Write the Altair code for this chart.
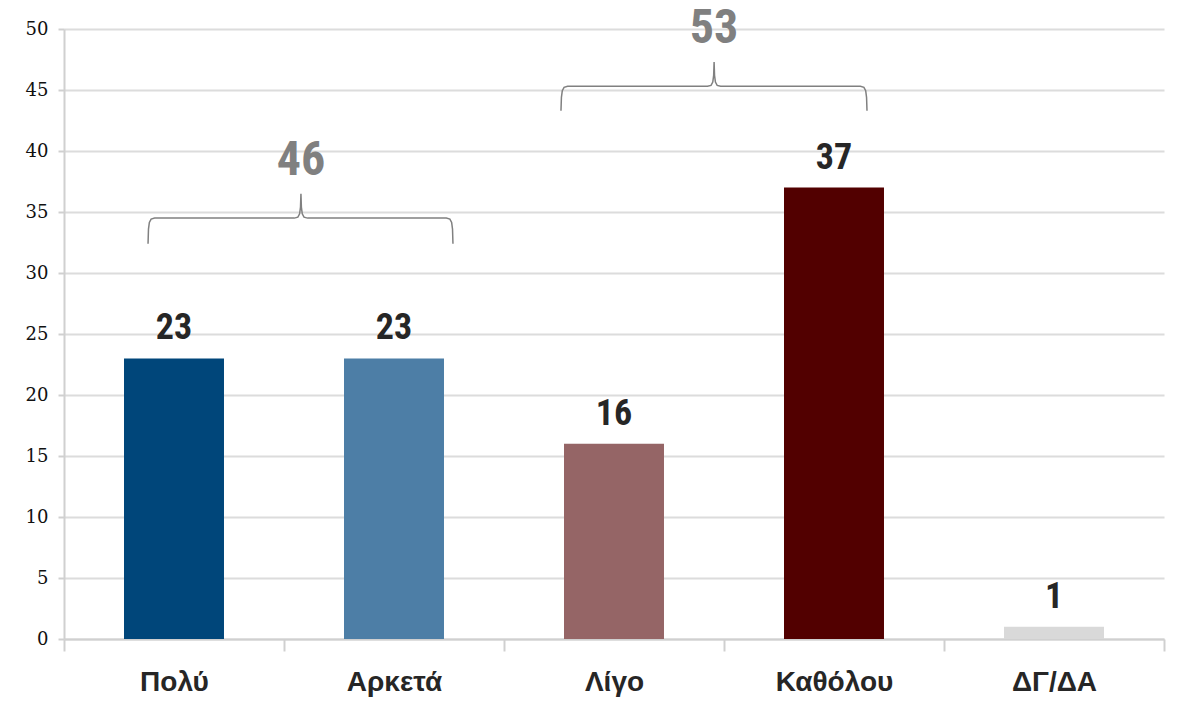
import altair as alt
import pandas as pd

# ---- data ----
categories = ["Πολύ", "Αρκετά", "Λίγο", "Καθόλου", "ΔΓ/ΔΑ"]
values = [23, 23, 16, 37, 1]
colors = ["#00467a", "#4d7ea6", "#956566", "#520000", "#d9d9d9"]

# groups summarised by a curly brace
group_members = [["Πολύ", "Αρκετά"], ["Λίγο", "Καθόλου"]]
group_totals = [sum(values[categories.index(c)] for c in g) for g in group_members]

# ---- brace annotation geometry (x in band units, y in data units) ----
brace_x0 = [0.382, 2.259]
brace_x1 = [1.768, 3.650]
brace_xm = [1.077, 2.955]
brace_arm = [34.5, 45.3]
brace_foot = [32.4, 43.3]
brace_peak = [36.5, 47.3]
label_y = [39.2, 50.0]

N = len(categories)
FONT = "Liberation Sans Narrow, Roboto Condensed, Liberation Sans, sans-serif"
AXFONT = "Liberation Sans, Arial, sans-serif"

df = pd.DataFrame({"cat": categories, "val": values, "col": colors})

rows = []
for gi in range(len(group_members)):
    x0, x1, xm = brace_x0[gi], brace_x1[gi], brace_xm[gi]
    a, f, p = brace_arm[gi], brace_foot[gi], brace_peak[gi]
    pts = [
        (x0, f), (x0 + 0.002, a - 0.9), (x0 + 0.006, a - 0.35), (x0 + 0.014, a - 0.08), (x0 + 0.03, a),
        (xm - 0.03, a), (xm - 0.014, a + 0.08), (xm - 0.006, a + 0.35), (xm - 0.002, a + 0.9), (xm, p),
        (xm + 0.002, a + 0.9), (xm + 0.006, a + 0.35), (xm + 0.014, a + 0.08), (xm + 0.03, a),
        (x1 - 0.03, a), (x1 - 0.014, a - 0.08), (x1 - 0.006, a - 0.35), (x1 - 0.002, a - 0.9), (x1, f),
    ]
    for i, (x, y) in enumerate(pts):
        rows.append({"g": gi, "o": i, "bx": x, "by": y})
brace_df = pd.DataFrame(rows)
lab_df = pd.DataFrame({"bx": brace_xm, "by": label_y, "t": [str(t) for t in group_totals]})

W, H = 1100, 610

yscale = alt.Scale(domain=[0, 50])
xband = alt.Scale(domain=categories, paddingInner=0, paddingOuter=0)

bars = alt.Chart(df).mark_bar(width=alt.RelativeBandSize(0.4545)).encode(
    x=alt.X("cat:N", sort=categories, scale=xband, title=None,
            axis=alt.Axis(labelAngle=0, labelFont=AXFONT, labelFontSize=28, labelFontWeight="bold",
                          labelColor="#262626", labelPadding=17, ticks=True, tickBand="extent",
                          tickSize=12, tickColor="#d0d0d0", tickWidth=2,
                          domainColor="#d0d0d0", domainWidth=2, grid=False)),
    y=alt.Y("val:Q", scale=yscale, title=None,
            axis=alt.Axis(values=list(range(0, 51, 5)), labelFont="DejaVu Serif", labelFontSize=18,
                          labelColor="#111111", labelPadding=10, tickSize=6, tickColor="#d0d0d0",
                          tickWidth=2, domainColor="#d0d0d0", domainWidth=2,
                          grid=True, gridColor="#dcdcdc", gridWidth=2)),
    color=alt.Color("col:N", scale=None, legend=None),
)

vlabels = alt.Chart(df).mark_text(font=FONT, fontSize=36, fontWeight="bold", color="#262626",
                                  baseline="alphabetic", dy=-19).encode(
    x=alt.X("cat:N", sort=categories, scale=xband, axis=None),
    y=alt.Y("val:Q", scale=yscale),
    text=alt.Text("val:Q"),
)

bx_scale = alt.Scale(domain=[0, N])

braces = alt.Chart(brace_df).mark_line(color="#808080", strokeWidth=1.5, clip=False).encode(
    x=alt.X("bx:Q", scale=bx_scale, axis=None),
    y=alt.Y("by:Q", scale=yscale),
    detail="g:N",
    order="o:Q",
)

glabels = alt.Chart(lab_df).mark_text(font=FONT, fontSize=48, fontWeight="bold", color="#808080",
                                      baseline="middle").encode(
    x=alt.X("bx:Q", scale=bx_scale, axis=None),
    y=alt.Y("by:Q", scale=yscale),
    text="t:N",
)

chart = alt.layer(bars, vlabels, braces, glabels).resolve_scale(x="shared").properties(
    width=W, height=H,
    autosize=alt.AutoSizeParams(type="none"),
    padding={"left": 56, "top": 21, "right": 8, "bottom": 66},
).configure_view(stroke=None)

chart.save("out.html", embed_options={"renderer": "svg", "actions": False})
